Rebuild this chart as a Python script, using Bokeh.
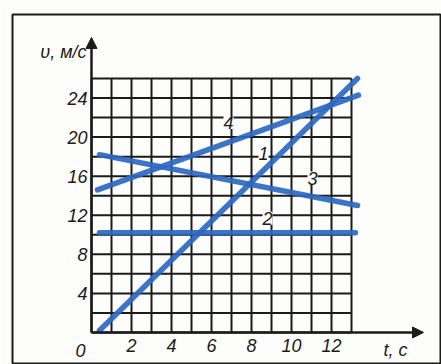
from bokeh.plotting import figure
from bokeh.models import Range1d, FixedTicker, Arrow, NormalHead
from bokeh.core.properties import value
from bokeh.embed import file_html
from bokeh.resources import INLINE

# Axis ticks: time t (с) and speed v (м/с)
t_ticks = [2, 4, 6, 8, 10, 12]
v_ticks = [4, 8, 12, 16, 20, 24]

# Graph paper: one column per second, one row per 2 м/с
t_grid = list(range(0, 14))
v_grid = list(range(0, 27, 2))

# Axis arrow extents
t_axis_end = 16.6
v_axis_end = 30.2

# Speed graphs (end points)
line1_t = [0.4, 13.3]
line1_v = [0.2, 26.0]
line2_t = [0.4, 13.2]
line2_v = [10.2, 10.2]
line3_t = [0.4, 13.3]
line3_v = [18.2, 13.0]
line4_t = [0.3, 13.35]
line4_v = [14.6, 24.3]

# Graph numbers
label_text = ["1", "2", "3", "4"]
label_t = [8.6, 8.8, 11.05, 6.85]
label_v = [18.3, 11.7, 15.8, 21.5]

BLUE = "#2b69c2"
INK = "#1b1b1b"
PAPER = "#fdfdfb"
FONT = "Liberation Sans"

p = figure(
    width=441, height=364,
    x_range=Range1d(-3.95, 17.5), y_range=Range1d(-3.28, 32.55),
    output_backend="svg", toolbar_location=None,
    min_border_left=12, min_border_top=14, min_border_right=0, min_border_bottom=0,
)
p.background_fill_color = PAPER
p.border_fill_color = PAPER
p.outline_line_color = INK
p.outline_line_width = 2
p.grid.visible = False

# axes pinned to the origin, showing only their numbers
for ax, ticks in ((p.xaxis[0], t_ticks), (p.yaxis[0], v_ticks)):
    ax.fixed_location = 0
    ax.ticker = FixedTicker(ticks=ticks)
    ax.axis_line_color = None
    ax.major_tick_line_color = None
    ax.minor_tick_line_color = None
    ax.major_tick_in = 0
    ax.major_tick_out = 0
    ax.major_label_text_font = FONT
    ax.major_label_text_font_style = "italic"
    ax.major_label_text_font_size = "18px"
    ax.major_label_text_color = INK
p.xaxis.major_label_standoff = 7
p.yaxis.major_label_standoff = 4
p.yaxis.major_label_orientation = "horizontal"

# graph paper
p.segment(x0=t_grid, y0=[v_grid[0]] * len(t_grid), x1=t_grid, y1=[v_grid[-1]] * len(t_grid),
          line_color=INK, line_width=2)
p.segment(x0=[t_grid[0]] * len(v_grid), y0=v_grid, x1=[t_grid[-1]] * len(v_grid), y1=v_grid,
          line_color=INK, line_width=2)

# speed graphs
for tt, vv in ((line2_t, line2_v), (line3_t, line3_v), (line4_t, line4_v), (line1_t, line1_v)):
    p.line(tt, vv, line_color=BLUE, line_width=5.5, line_alpha=0.92, line_cap="round")

# graph numbers on the paper
p.text(x=label_t, y=label_v, text=label_text, text_align="center", text_baseline="middle",
       text_font=value(FONT), text_font_style="italic", text_font_size="18px",
       text_color=INK, background_fill_color=PAPER)

# axes with arrow heads
p.add_layout(Arrow(x_start=0, y_start=0, x_end=t_axis_end, y_end=0, line_color=INK, line_width=2.5,
                   end=NormalHead(size=11, fill_color=INK, line_color=INK)))
p.add_layout(Arrow(x_start=0, y_start=0, x_end=0, y_end=v_axis_end, line_color=INK, line_width=2.5,
                   end=NormalHead(size=11, fill_color=INK, line_color=INK)))

# origin and axis names
p.text(x=[0], y=[0], text=["0"], x_offset=-11, y_offset=18, text_align="center",
       text_baseline="middle", text_font=value(FONT), text_font_style="italic",
       text_font_size="18px", text_color=INK)
p.text(x=[15.2], y=[0], text=["t, с"], y_offset=18, text_align="center",
       text_baseline="middle", text_font=value(FONT), text_font_style="italic",
       text_font_size="18px", text_color=INK)
p.text(x=[0], y=[28.7], text=["υ, м/с"], x_offset=-5, text_align="right",
       text_baseline="middle", text_font=value(FONT), text_font_style="italic",
       text_font_size="18px", text_color=INK)

open("out.html", "w").write(file_html(p, INLINE))
